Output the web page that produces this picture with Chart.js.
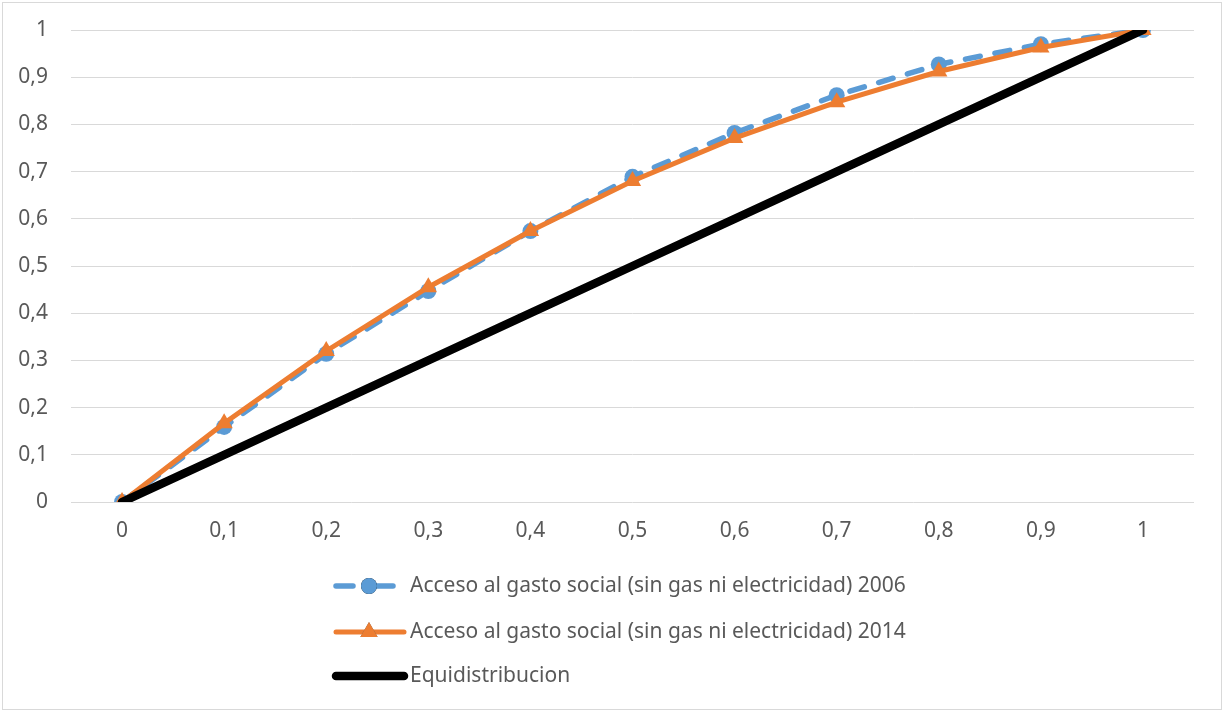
<!DOCTYPE html>
<html>
<head>
<meta charset="utf-8">
<script src="https://cdn.jsdelivr.net/npm/chart.js@4/dist/chart.umd.min.js"></script>
<style>
  html, body { margin: 0; padding: 0; background: #ffffff; }
  #wrap { width: 1223px; height: 711px; position: relative; }
</style>
</head>
<body>
<div id="wrap"><canvas id="c" width="1223" height="711"></canvas></div>
<script>
// Cumulative population share (x) and cumulative share of social spending (y)
const categories = ['0', '0,1', '0,2', '0,3', '0,4', '0,5', '0,6', '0,7', '0,8', '0,9', '1'];
const acceso2006 = [0, 0.159, 0.314, 0.447, 0.574, 0.689, 0.782, 0.862, 0.927, 0.970, 1];
const acceso2014 = [0, 0.167, 0.320, 0.455, 0.574, 0.680, 0.771, 0.847, 0.912, 0.963, 1];
const equidistribucion = [0, 0.1, 0.2, 0.3, 0.4, 0.5, 0.6, 0.7, 0.8, 0.9, 1];
const yTicks = [0, 0.1, 0.2, 0.3, 0.4, 0.5, 0.6, 0.7, 0.8, 0.9, 1];

const seriesNames = [
  'Acceso al gasto social (sin gas ni electricidad) 2006',
  'Acceso al gasto social (sin gas ni electricidad) 2014',
  'Equidistribucion'
];

const FONT = '"Noto Sans", "DejaVu Sans", sans-serif';
const FONT_SIZE = 21;
const TEXT = '#595959';
const GRID = '#d9d9d9';

// Frame around the whole chart
const framePlugin = {
  id: 'frame',
  afterDraw(chart) {
    const ctx = chart.ctx;
    ctx.save();
    ctx.strokeStyle = GRID;
    ctx.lineWidth = 1;
    ctx.strokeRect(2.5, 2.5, chart.width - 4, chart.height - 4);
    ctx.restore();
  }
};

// Legend stacked one entry per row below the plot
const stackedLegend = {
  id: 'stackedLegend',
  afterDraw(chart) {
    const ctx = chart.ctx;
    const rows = [586, 632, 676];
    const x0 = 336, tx = 410;
    ctx.save();
    chart.data.datasets.forEach((ds, i) => {
      const y = rows[i];
      ctx.strokeStyle = ds.borderColor;
      ctx.lineWidth = ds.borderWidth;
      ctx.lineCap = 'round';
      ctx.beginPath();
      if (i === 0) {
        ctx.moveTo(x0, y); ctx.lineTo(353, y);
        ctx.moveTo(366, y); ctx.lineTo(393, y);
      } else {
        ctx.moveTo(x0, y); ctx.lineTo(404, y);
      }
      ctx.stroke();
      if (ds.pointRadius > 0) {
        Chart.helpers.drawPoint(ctx, {
          pointStyle: ds.pointStyle,
          radius: ds.pointRadius,
          rotation: 0,
          borderWidth: 0
        }, 369, y);
        ctx.fillStyle = ds.pointBackgroundColor;
        ctx.fill();
      }
      ctx.fillStyle = TEXT;
      ctx.font = FONT_SIZE + 'px ' + FONT;
      ctx.textBaseline = 'middle';
      ctx.textAlign = 'left';
      ctx.fillText(ds.label, tx, y);
    });
    ctx.restore();
  }
};

new Chart(document.getElementById('c'), {
  type: 'line',
  data: {
    labels: categories,
    datasets: [
      {
        label: seriesNames[0],
        data: acceso2006,
        borderColor: '#5b9bd5',
        backgroundColor: '#5b9bd5',
        pointBackgroundColor: '#5b9bd5',
        pointBorderWidth: 0,
        borderWidth: 5.5,
        borderDash: [15, 15],
        borderCapStyle: 'round',
        pointStyle: 'circle',
        pointRadius: 8,
        tension: 0,
        order: 2
      },
      {
        label: seriesNames[1],
        data: acceso2014,
        borderColor: '#ed7d31',
        backgroundColor: '#ed7d31',
        pointBackgroundColor: '#ed7d31',
        pointBorderWidth: 0,
        borderWidth: 5,
        pointStyle: 'triangle',
        pointRadius: 10,
        tension: 0,
        order: 1
      },
      {
        label: seriesNames[2],
        data: equidistribucion,
        borderColor: '#000000',
        backgroundColor: '#000000',
        pointBackgroundColor: '#000000',
        borderWidth: 8.5,
        borderCapStyle: 'round',
        pointRadius: 0,
        tension: 0,
        order: 0
      }
    ]
  },
  options: {
    responsive: false,
    animation: false,
    events: [],
    layout: { padding: { top: 30, right: 29, bottom: 159, left: 0 } },
    plugins: {
      legend: { display: false },
      tooltip: { enabled: false },
      title: { display: false }
    },
    scales: {
      x: {
        type: 'category',
        offset: true,
        grid: { display: false, drawTicks: false },
        border: { display: false },
        ticks: {
          color: TEXT,
          font: { family: FONT, size: FONT_SIZE },
          padding: 16,
          maxRotation: 0,
          autoSkip: false
        },
        afterFit(scale) { scale.height = 50; }
      },
      y: {
        min: 0,
        max: 1,
        afterBuildTicks(scale) { scale.ticks = yTicks.map(v => ({ value: v })); },
        grid: { color: GRID, lineWidth: 1, drawTicks: false },
        border: { display: false },
        ticks: {
          color: TEXT,
          font: { family: FONT, size: FONT_SIZE },
          padding: 23,
          callback: (v) => String(Math.round(v * 10) / 10).replace('.', ',')
        },
        afterFit(scale) {
          scale.width = 71;
          scale.paddingTop = 0;
          scale.paddingBottom = 0;
        }
      }
    }
  },
  plugins: [framePlugin, stackedLegend]
});
</script>
</body>
</html>
